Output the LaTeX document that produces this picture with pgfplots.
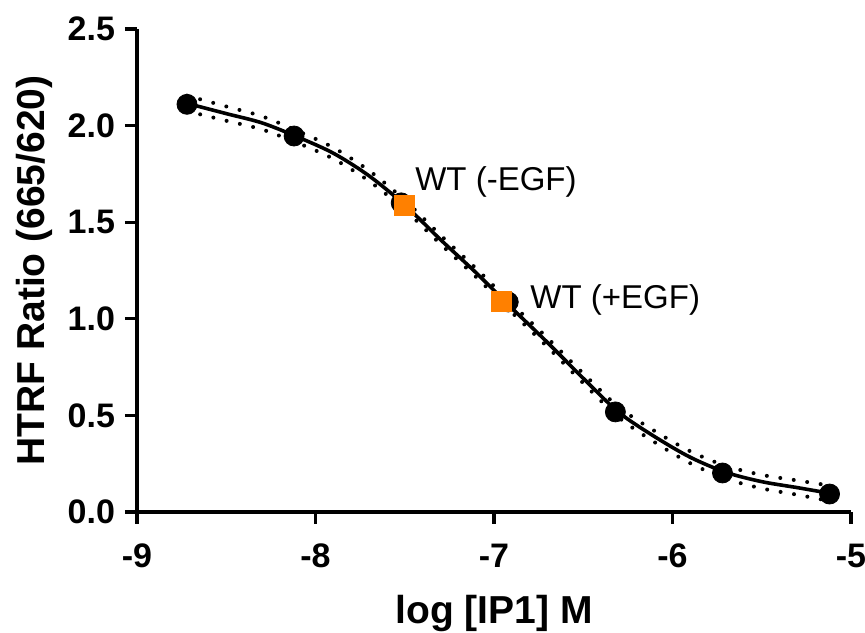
\documentclass[border=0pt]{standalone}
\usepackage{fontspec}
\setmainfont{Liberation Sans}
\usepackage{pgfplots}
\pgfplotsset{compat=1.18}
\definecolor{wtorange}{RGB}{255,128,0}

\begin{document}
\begin{tikzpicture}
\begin{axis}[
    name=ax,
    scale only axis,
    width=357pt, height=241.5pt,
    xmin=-9, xmax=-5, ymin=0, ymax=2.5,
    axis lines=left,
    axis line style={-, line width=1.65pt},
    tick align=outside,
    major tick length=6pt,
    every tick/.style={black, line width=1.65pt},
    xtick={-9,-8,-7,-6,-5},
    ytick={0,0.5,1,1.5,2,2.5},
    /pgf/number format/assume math mode=true,
    ticklabel style={font=\bfseries\fontsize{17}{20}\selectfont},
    xticklabel style={yshift=-6.5pt},
    yticklabel style={xshift=-1.5pt, /pgf/number format/fixed, /pgf/number format/fixed zerofill,
      /pgf/number format/precision=1},
    xlabel={log [IP1] M},
    ylabel={HTRF Ratio (665/620)},
    label style={font=\bfseries\fontsize{19.5}{23}\selectfont},
    xlabel style={at={(axis description cs:0.5,0)}, anchor=base, yshift=-56pt},
    ylabel style={at={(axis description cs:0,0.5)}, anchor=base, yshift=46pt},
    clip=false,
]
% confidence bands
\addplot[black, line width=2pt, line cap=round, dash pattern=on 0pt off 6.8pt, smooth] coordinates {
(-8.72,2.155) (-8.5,2.099) (-8.3,2.048) (-8.1,1.972) (-7.9,1.886) (-7.7,1.767)
(-7.5,1.614) (-7.3,1.433) (-7.1,1.260) (-6.9,1.077) (-6.7,0.900) (-6.5,0.717)
(-6.3,0.542) (-6.1,0.419) (-5.9,0.314) (-5.7,0.238) (-5.5,0.192) (-5.3,0.163) (-5.12,0.137)};
\addplot[black, line width=2pt, line cap=round, dash pattern=on 0pt off 6.8pt, smooth] coordinates {
(-8.72,2.075) (-8.5,2.025) (-8.3,1.980) (-8.1,1.910) (-7.9,1.828) (-7.7,1.713)
(-7.5,1.564) (-7.3,1.387) (-7.1,1.216) (-6.9,1.033) (-6.7,0.854) (-6.5,0.667)
(-6.3,0.488) (-6.1,0.361) (-5.9,0.252) (-5.7,0.172) (-5.5,0.122) (-5.3,0.089) (-5.12,0.057)};
% fitted curve
\addplot[black, line width=1.8pt, smooth] coordinates {
(-8.72,2.115) (-8.5,2.062) (-8.3,2.014) (-8.1,1.941) (-7.9,1.857) (-7.7,1.740)
(-7.5,1.589) (-7.3,1.410) (-7.1,1.238) (-6.9,1.055) (-6.7,0.877) (-6.5,0.692)
(-6.3,0.515) (-6.1,0.390) (-5.9,0.283) (-5.7,0.205) (-5.5,0.157) (-5.3,0.126) (-5.12,0.097)};
% data
\addplot[only marks, mark=*, mark size=5pt, black] coordinates {
(-8.72,2.11) (-8.12,1.946) (-7.52,1.60) (-6.92,1.087) (-6.32,0.518) (-5.72,0.202) (-5.12,0.093)};
% WT points
\addplot[only marks, mark=square*, mark size=5pt, wtorange, mark options={draw=none, fill=wtorange}] coordinates {
(-7.50,1.589) (-6.957,1.089)};
\node[anchor=west, inner sep=0pt, font=\fontsize{16.5}{19}\selectfont] at (axis cs:-7.443,1.708) {WT (-EGF)};
\node[anchor=west, inner sep=0pt, font=\fontsize{16.5}{19}\selectfont] at (axis cs:-6.798,1.097) {WT (+EGF)};
\end{axis}
\pgfresetboundingbox
\path (ax.south west) ++(-68.5pt,-60.5pt) rectangle ([xshift=7pt,yshift=14.5pt]ax.north east);
\end{tikzpicture}
\end{document}
